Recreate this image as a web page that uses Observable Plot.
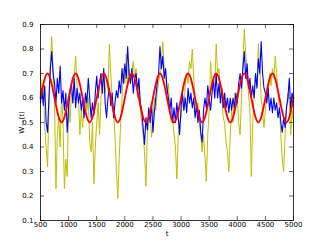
<!DOCTYPE html>
<html>
<head>
<meta charset="utf-8">
<script src="https://cdn.jsdelivr.net/npm/d3@7"></script>
<script src="https://cdn.jsdelivr.net/npm/@observablehq/plot@0.6"></script>
<style>
  html, body { margin: 0; padding: 0; background: #fff; }
  svg { display: block; }
</style>
</head>
<body>
<div id="chart"></div>
<script>
// Time grid (t from 500 to 5000, every 25)
const tStart = 500, tEnd = 5000, tStep = 25;

// Blue series, one row per 500 t
const blueValues = [
  0.58,0.64,0.57,0.65,0.50,0.46,0.60,0.72,0.79,0.70,0.66,0.58,0.68,0.62,0.73,0.58,0.63,0.55,0.62,0.46,
  0.56,0.63,0.66,0.58,0.68,0.56,0.64,0.58,0.62,0.55,0.60,0.52,0.62,0.58,0.68,0.60,0.52,0.58,0.53,0.62,
  0.69,0.60,0.66,0.70,0.62,0.72,0.58,0.52,0.60,0.64,0.57,0.62,0.52,0.58,0.63,0.60,0.67,0.62,0.72,0.66,
  0.74,0.68,0.81,0.70,0.66,0.72,0.62,0.68,0.70,0.63,0.68,0.58,0.55,0.48,0.41,0.52,0.47,0.56,0.50,0.58,
  0.46,0.54,0.60,0.66,0.70,0.81,0.72,0.77,0.68,0.72,0.64,0.60,0.55,0.60,0.50,0.56,0.50,0.58,0.52,0.45,
  0.56,0.62,0.55,0.60,0.54,0.64,0.58,0.62,0.56,0.60,0.52,0.57,0.50,0.55,0.46,0.42,0.55,0.60,0.56,0.65,
  0.60,0.55,0.62,0.67,0.60,0.70,0.60,0.66,0.58,0.64,0.56,0.62,0.56,0.60,0.54,0.60,0.55,0.60,0.56,0.62,
  0.58,0.66,0.70,0.64,0.72,0.79,0.68,0.74,0.64,0.68,0.60,0.65,0.60,0.70,0.64,0.76,0.70,0.83,0.70,0.64,
  0.62,0.58,0.64,0.55,0.60,0.54,0.60,0.55,0.58,0.52,0.56,0.50,0.46,0.52,0.48,0.56,0.60,0.68,0.55,0.62,
  0.60
];

// Yellow series, one row per 500 t
const yellowValues = [
  0.72,0.60,0.66,0.48,0.40,0.32,0.55,0.75,0.85,0.70,0.58,0.23,0.45,0.52,0.40,0.62,0.50,0.23,0.35,0.28,
  0.58,0.50,0.62,0.58,0.68,0.77,0.65,0.60,0.45,0.55,0.48,0.56,0.62,0.55,0.60,0.42,0.38,0.50,0.25,0.40,
  0.50,0.58,0.45,0.60,0.66,0.70,0.62,0.68,0.63,0.82,0.70,0.60,0.55,0.45,0.30,0.19,0.35,0.50,0.60,0.72,
  0.66,0.78,0.65,0.72,0.66,0.70,0.75,0.68,0.72,0.60,0.65,0.55,0.50,0.45,0.38,0.24,0.45,0.50,0.55,0.44,
  0.50,0.60,0.55,0.62,0.66,0.70,0.75,0.83,0.72,0.70,0.62,0.66,0.55,0.50,0.52,0.45,0.40,0.27,0.45,0.50,
  0.52,0.60,0.55,0.65,0.70,0.66,0.75,0.72,0.80,0.68,0.60,0.55,0.58,0.50,0.45,0.38,0.45,0.36,0.26,0.45,
  0.55,0.75,0.65,0.68,0.65,0.82,0.70,0.72,0.62,0.60,0.52,0.50,0.42,0.38,0.30,0.45,0.55,0.50,0.62,0.58,
  0.60,0.50,0.45,0.60,0.75,0.88,0.78,0.72,0.62,0.55,0.28,0.50,0.62,0.70,0.65,0.82,0.72,0.60,0.55,0.48,
  0.55,0.62,0.60,0.70,0.65,0.72,0.68,0.77,0.70,0.62,0.55,0.45,0.35,0.30,0.45,0.55,0.62,0.58,0.45,0.55,
  0.50
];

// Red periodic curve: readings at every quarter period (125)
const redT = [500,625,750,875,1000,1125,1250,1375,1500,1625,1750,1875,2000,2125,2250,2375,2500,2625,2750,2875,
              3000,3125,3250,3375,3500,3625,3750,3875,4000,4125,4250,4375,4500,4625,4750,4875,5000];
const redValues = [0.6,0.7,0.6,0.5,0.6,0.7,0.6,0.5,0.6,0.7,0.6,0.5,0.6,0.7,0.6,0.5,0.6,0.7,0.6,0.5,
                   0.6,0.7,0.6,0.5,0.6,0.7,0.6,0.5,0.6,0.7,0.6,0.5,0.6,0.7,0.6,0.5,0.6];

const xTicks = [500,1000,1500,2000,2500,3000,3500,4000,4500,5000];
const yTicks = [0.1,0.2,0.3,0.4,0.5,0.6,0.7,0.8,0.9];

const tGrid = d3.range(tStart, tEnd + 1, tStep);
const blue = tGrid.map((t, i) => ({t, v: blueValues[i]}));
const yellow = tGrid.map((t, i) => ({t, v: yellowValues[i]}));
const red = redT.map((t, i) => ({t, v: redValues[i]}));

const W = 325, H = 245, ML = 40, MR = 32, MT = 24, MB = 25;
const innerW = W - ML - MR, innerH = H - MT - MB, tick = 4;

const chart = Plot.plot({
  width: W,
  height: H,
  marginLeft: ML,
  marginRight: MR,
  marginTop: MT,
  marginBottom: MB,
  style: {fontFamily: "DejaVu Sans", fontSize: "7px", background: "#fff", color: "#000"},
  x: {domain: [500, 5000]},
  y: {domain: [0.1, 0.9]},
  marks: [
    Plot.line(yellow, {x: "t", y: "v", stroke: "#bfbf00", strokeWidth: 1}),
    Plot.line(blue, {x: "t", y: "v", stroke: "#0000ff", strokeWidth: 1.1}),
    Plot.line(red, {x: "t", y: "v", stroke: "#ff0000", strokeWidth: 1.8, curve: "natural"}),
    Plot.tickX(xTicks, {x: d => d, stroke: "#000", strokeWidth: 0.6, insetTop: innerH - tick}),
    Plot.tickX(xTicks, {x: d => d, stroke: "#000", strokeWidth: 0.6, insetBottom: innerH - tick}),
    Plot.tickY(yTicks, {y: d => d, stroke: "#000", strokeWidth: 0.6, insetRight: innerW - tick}),
    Plot.tickY(yTicks, {y: d => d, stroke: "#000", strokeWidth: 0.6, insetLeft: innerW - tick}),
    Plot.frame({stroke: "#000", strokeWidth: 0.8}),
    Plot.axisX(xTicks, {anchor: "bottom", tickSize: 0, tickPadding: 2, tickFormat: "d",
      label: "t", labelAnchor: "center", labelArrow: "none", labelOffset: 15}),
    Plot.axisY(yTicks, {anchor: "left", tickSize: 0, tickPadding: 7, tickFormat: ".1f",
      label: "W\u208B\u208A(t)", labelAnchor: "center", labelArrow: "none", labelOffset: 21})
  ]
});
document.getElementById("chart").appendChild(chart);
</script>
</body>
</html>
